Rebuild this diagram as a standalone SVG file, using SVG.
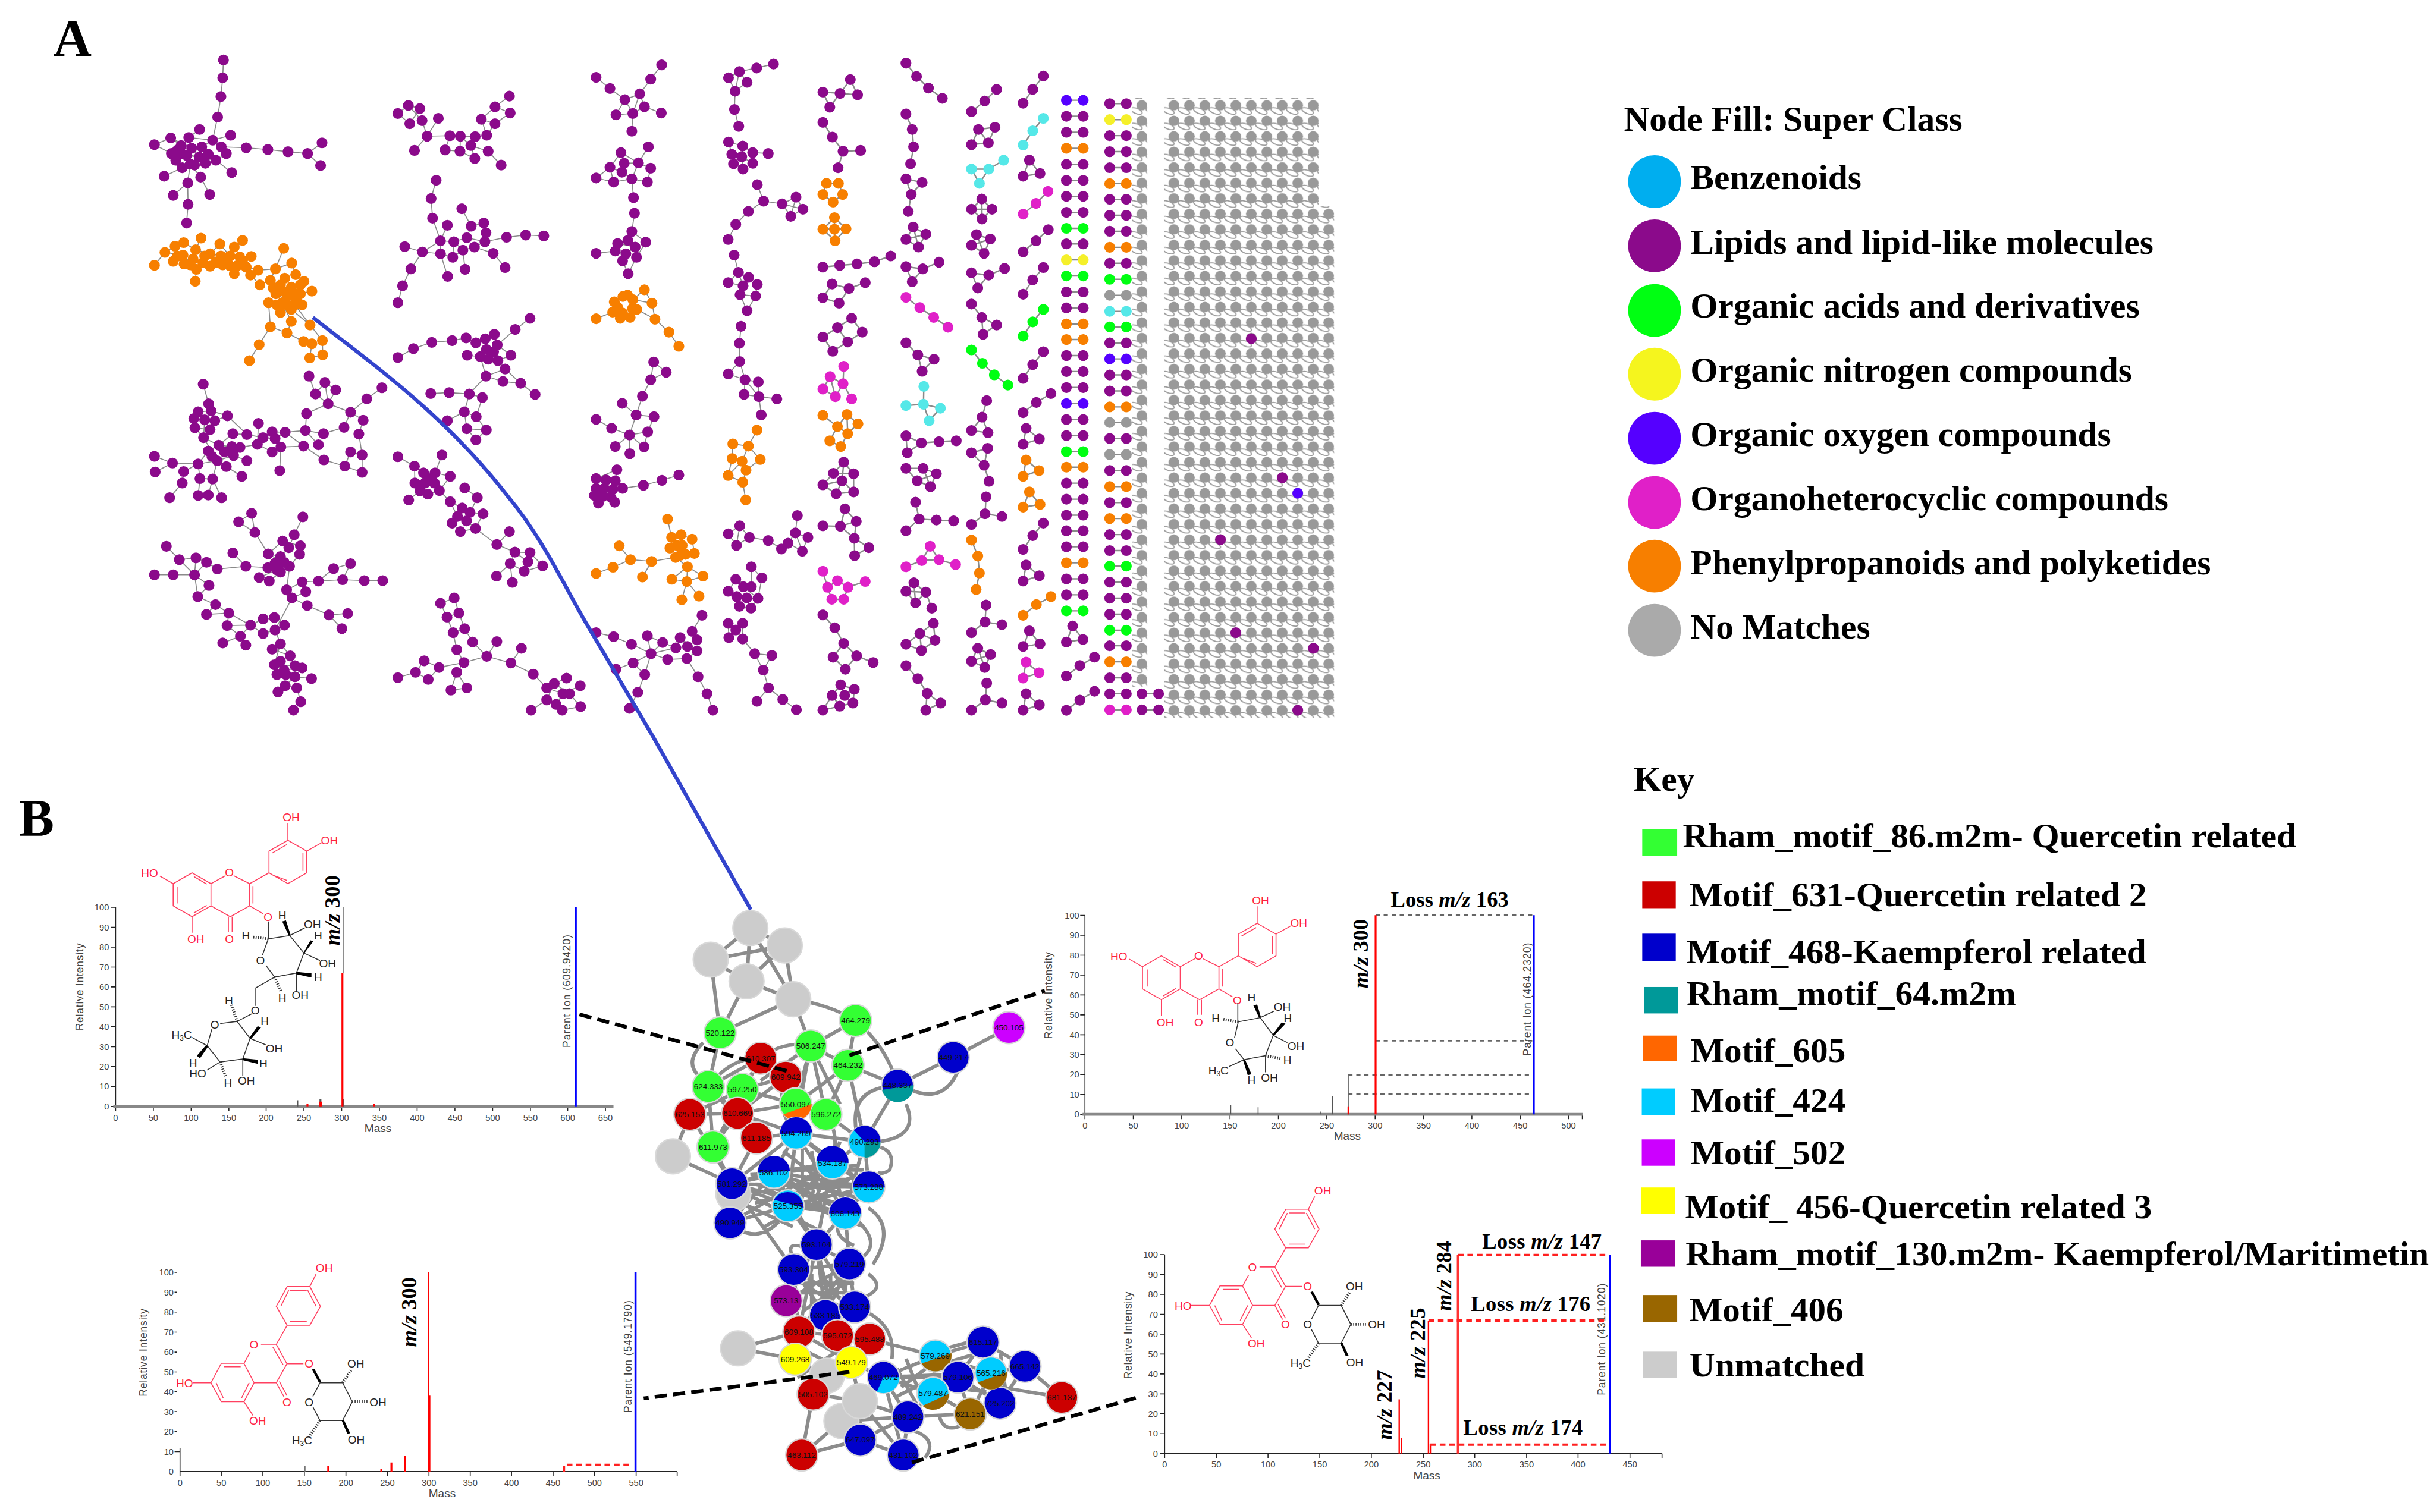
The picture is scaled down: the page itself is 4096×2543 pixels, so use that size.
<svg xmlns="http://www.w3.org/2000/svg" xmlns:xlink="http://www.w3.org/1999/xlink" width="4096" height="2543" viewBox="0 0 4096 2543">
<style>
text{font-family:"Liberation Sans",Arial,sans-serif}
.z path{vector-effect:non-scaling-stroke;fill:none;stroke-linecap:round;stroke-width:18.2}
.z .e{stroke:#8a8a8a;stroke-width:1.7;stroke-linecap:butt}
.z .e2{stroke:#8a8a8a;stroke-width:2.4;stroke-linecap:butt}
.z .p{stroke:#8b0a8b}.z .o{stroke:#f77f00}.z .m{stroke:#e020c8}.z .c{stroke:#55e8e8}.z .g{stroke:#00ff12}.z .y{stroke:#f5f02a}.z .v{stroke:#5500ff}.z .a{stroke:#999}
.lg{font-family:"Liberation Serif","Times New Roman",serif;font-weight:700;font-size:75px;fill:#000}
.ky{font-family:"Liberation Serif","Times New Roman",serif;font-weight:700;font-size:71px;fill:#000}
.pl{font-family:"Liberation Serif","Times New Roman",serif;font-weight:700;font-size:112px;fill:#000}
.mz,.ls{font-family:"Liberation Serif","Times New Roman",serif;font-weight:700;font-size:46px;fill:#000}
.it{font-style:italic}
.nb circle{stroke:#d8d8d8;stroke-width:3}
.nb text{font-size:17px;text-anchor:middle;fill:#111}
.net{fill:none;stroke:#8c8c8c;stroke-width:7.5}
.tk{font-size:18.5px;fill:#444;text-anchor:middle}
.ty{font-size:18.5px;fill:#444;text-anchor:end}
.ax{font-size:24px;fill:#444;text-anchor:middle}
.ri{font-size:22px;fill:#444;text-anchor:middle}
.ln{fill:none;stroke:#222;stroke-width:2}
.rd{fill:none;stroke:#ff4060;stroke-width:2}
.bk{fill:none;stroke:#333;stroke-width:2}
.hs{fill:none;stroke:#333;stroke-width:6;stroke-dasharray:2 3}
.mr{font-size:24px;fill:#ff2040;text-anchor:middle}
.mb{font-size:24px;fill:#222;text-anchor:middle}
.dd{fill:none;stroke:#000;stroke-width:8;stroke-dasharray:26 13}
.rdl{fill:none;stroke:#ff0000;stroke-width:4}
.rdd{fill:none;stroke:#ff2020;stroke-width:5;stroke-dasharray:12 8}
.gyd{fill:none;stroke:#666;stroke-width:3.5;stroke-dasharray:9 8}
.blu{fill:none;stroke:#0000ff;stroke-width:4.5}
</style>
<defs>
<pattern id="gridp" patternUnits="userSpaceOnUse" x="2466.3" y="206.7" width="32.8" height="32.88">
<g fill="none" stroke="#999" stroke-width="2.3"><ellipse cx="9.5" cy="28.5" rx="13" ry="5.5" transform="rotate(22 9.5 28.5)"/><ellipse cx="42.3" cy="28.5" rx="13" ry="5.5" transform="rotate(22 42.3 28.5)"/><ellipse cx="9.5" cy="-4.4" rx="13" ry="5.5" transform="rotate(22 9.5 -4.4)"/><ellipse cx="42.3" cy="-4.4" rx="13" ry="5.5" transform="rotate(22 42.3 -4.4)"/></g>
<ellipse cx="21.3" cy="16.5" rx="11.4" ry="11" fill="#999"/>
</pattern>
<g id="ylab"><text class="ty" y="6.5">0</text><text class="ty" y="-35.7">10</text><text class="ty" y="-77.9">20</text><text class="ty" y="-120">30</text><text class="ty" y="-162.2">40</text><text class="ty" y="-204.4">50</text><text class="ty" y="-246.6">60</text><text class="ty" y="-288.7">70</text><text class="ty" y="-330.9">80</text><text class="ty" y="-373.1">90</text><text class="ty" y="-415.3">100</text></g>
<path id="ytk" d="M-10 0H0M-10 -42.2H0M-10 -84.4H0M-10 -126.5H0M-10 -168.7H0M-10 -210.9H0M-10 -253.1H0M-10 -295.2H0M-10 -337.4H0M-10 -379.6H0M-10 -421.8H0" class="ln"/>
<g id="quer">
<path class="rd" d="M367 1873 407 1850 447 1873 447 1920 407 1943 367 1920ZM377 1879V1915M411 1858 438 1874M411 1935 438 1919M447 1873 478 1856M495 1856 529 1873 529 1920 488 1943 447 1920M536 1878V1915M484 1943V1975M492 1943V1975M529 1873 570 1850M570 1850 570 1804 610 1781 650 1804 650 1850 610 1873ZM577 1808 608 1790M642 1808V1846M576 1854 608 1866M610 1781V1745M650 1804 682 1786M339 1857 367 1873M407 1943V1977M529 1920 558 1937"/>
<text class="mr" x="617" y="1741">OH</text><text class="mr" x="698" y="1789">OH</text><text class="mr" x="317" y="1859">HO</text><text class="mr" x="486" y="1858">O</text><text class="mr" x="415" y="1999">OH</text><text class="mr" x="486" y="1999">O</text><text class="mr" x="568" y="1952">O</text>
</g>
<g id="kaem">
<path class="rd" d="M608.6 2727 656.5 2727 679 2769 656.5 2809 608.6 2809 585.5 2769ZM595 2769 612 2735M615 2735H650M615 2801H650M670 2769 652 2735M656.5 2727 670 2700M608.6 2809 585.5 2849.5 553 2849.5M530 2866 517 2890M585.5 2849.5 608 2890.6 585.5 2931 538.5 2931M578 2855 600 2893M608 2890.6H643M585.5 2931 602 2961M592 2928 608 2958M517 2889.7 469 2889.7 447 2931 469 2971 517 2971 538.5 2931ZM475 2897H510M458 2931 473 2963M512 2963 528 2931M517 2971 536 3000M447 2931H408"/>
<text class="mr" x="687" y="2696">OH</text><text class="mr" x="538" y="2858">O</text><text class="mr" x="655" y="2899">O</text><text class="mr" x="608" y="2980">O</text><text class="mr" x="391" y="2940">HO</text><text class="mr" x="546" y="3020">OH</text>
<path class="bk" d="M678 2931 726 2931 746.5 2971 726 3011 678 3011 663 2982M663 2960 678 2931"/>
<path fill="#000" d="M661 2903 666 2901 681 2929 676 2931ZM724 3011 729 3010 742 3038 736 3039Z"/>
<path class="hs" d="M726 2931 744 2904M746.5 2971H780M678 3011 657 3042"/>
<text class="mb" x="754" y="2899">OH</text><text class="mb" x="655" y="2980">O</text><text class="mb" x="801" y="2980">OH</text><text class="mb" x="755" y="3060">OH</text><text class="mb" x="640" y="3061">H<tspan font-size="15" dy="4">3</tspan><tspan dy="-4">C</tspan></text>
</g>
</defs>
<g transform="scale(.79349)">
<text class="pl" x="113" y="117">A</text>
<text class="pl" x="40" y="1771">B</text>

<!-- Panel A connectors -->
<g id="panelA-connectors" class="z">
<g transform="translate(250 80) scale(.7653 .9439)">
<path class="e" d="M292 50 290 90 285 132 276 178 262 230M355 247 415 251 471 256 525 260 565 236M525 260 561 287M286 245 355 247M101 240 146 225 175 242M101 240 148 260 176 260M226 206 196 224 204 248 232 245 262 230 286 245 300 260 271 275 242 282 200 284 178 292M312 219 262 230M128 311 178 292M315 303 271 275M193 326 200 284M229 313 200 284M193 326 153 354M229 313 254 352M193 326 194 374 190 416M225 268 176 260M225 268 271 275M225 268 232 245M204 248 225 268 200 284M196 224 262 230M146 225 204 248M148 260 225 268"/>
<path class="e" d="M101 511 130 482 158 468 182 460 215 476 255 485 282 463 310 490 345 455M130 482 180 488 208 497 255 513 290 510 330 512 369 491M153 502 208 497 217 520 214 547M230 450 215 476M255 485 285 490 337 492 355 515 388 522 436 519 459 473M367 533 393 555 422 545 436 519 481 506 492 532M422 545 437 575 417 595 422 649 391 689 364 725M417 595 455 595 480 637 468 663M455 595 450 617M422 649 468 663 514 682M490 600 532 645 566 680 567 712 531 719 537 687 514 682M480 610 532 645M450 555 470 580 505 575 537 569M480 560 515 547M437 575 490 600 510 600M450 555 490 600M322 530 290 510"/>
<path class="e" d="M236 778 251 822 258 838 222 840 210 855 240 858 268 860 255 880 213 876 237 898 279 915M258 838 303 849 357 891M240 858 237 898M268 860 303 849M237 898 275 950 250 928 279 915 315 918 338 920 320 938 275 950 300 963M357 950 320 938M318 889 279 915M318 889 357 891 402 898 427 885 463 886 519 882 522 844 582 822 547 800 529 760M547 800 573 774 603 791 582 822M573 774 582 822M582 822 644 841 689 811 731 786M644 841 679 859 667 890 676 937 676 976 628 962 570 948 514 917 451 919 427 930 386 913 338 920M644 930 676 937M644 930 628 962M644 841 626 875 569 889 519 882M514 917 463 886M555 914 519 882M402 898 435 900 463 886M435 900 451 919 448 972M389 866 386 913M250 928 222 957 151 955 101 940M151 955 103 975M222 957 182 974 178 1000 143 1033M222 957 227 990 222 1028 250 1027 262 991 275 950M262 991 287 1033M300 963 343 985M227 990 262 991M275 950 222 957"/>
<path class="e" d="M370 1068 334 1087 379 1111 416 1159M370 1068 379 1111M512 1076 488 1116 473 1145M456 1130 505 1141 503 1160 475 1187 440 1195 415 1190 354 1187 275 1193 245 1178 216 1168 170 1172 134 1142M170 1172 212 1206 153 1206 101 1206M216 1168 212 1206 245 1178M212 1206 252 1230 221 1255 270 1273 307 1292 367 1319 402 1305 433 1302 461 1319 435 1330 402 1338 367 1319M318 1157 354 1187M245 1295 270 1273M245 1295 307 1292 302 1320 367 1319M302 1320 339 1344 290 1359M339 1344 354 1364M339 1344 367 1319M212 1206 221 1255M391 1212 440 1195M419 1220 450 1200 475 1187 416 1159 450 1165 473 1145M416 1159 456 1130M475 1187 467 1240 482 1258 435 1330M467 1240 510 1222 555 1220 597 1192 644 1181 622 1217 555 1220M622 1217 682 1219 733 1219M482 1258 520 1244 510 1222M482 1258 524 1275 584 1296 636 1293M584 1296 620 1327M435 1330 450 1361 477 1388M427 1373 477 1388M450 1361 433 1408 460 1420 510 1415M433 1408 490 1410 490 1435 536 1439M440 1430 490 1435 463 1455 443 1469M463 1455 495 1460 506 1491 486 1510"/>
<path class="e" d="M775 170 804 152 836 159 808 193 775 170M804 152 842 186 856 221 919 220 948 221 947 255 906 252 919 220 989 222 1021 219 1006 183 1044 155 1084 131M1044 155 1086 169 1044 193 1006 183M887 181 856 221 821 253M989 222 977 242 988 271 947 255M977 242 1025 255 1061 286M1021 219 1044 193M948 221 977 242M881 320 867 361 871 405 893 456 930 458 966 449 978 423 952 384M978 423 1013 416 1019 438 1016 458 987 470 955 477 927 493 893 485 843 481 794 469M843 481 811 519 788 557 775 595M893 456 912 421M893 456 843 481M893 485 913 536M893 456 893 485M930 458 955 477 961 520M930 458 927 493M1016 458 1076 448 1129 443 1179 445M987 470 1039 484 1072 516M966 449 1016 458M775 718 818 698 869 684 925 680 964 674 991 685 1017 676 1042 666 1050 690 1100 655 1141 630M1003 716 1025 722 1052 725 1088 713M967 713 1003 716M1050 690 1088 713M1052 725 1072 744 1019 760 1003 716M1019 760 1066 772 1115 776 1155 801M1019 760 973 800 1009 808 992 851M917 797 866 799M973 800 917 797M973 800 959 840 912 860M959 840 966 878 1020 881 992 851 959 840M966 878 991 903 1020 881M1072 744 1115 776M775 941 821 962 846 977 878 977 920 985 890 1017 858 1025 836 1018 805 1038M821 962 822 1000 850 1000 876 1000 890 1017M897 937 878 977 850 1000M836 1018 846 977M890 1017 920 1042 953 1056 975 1066 1011 1069 990 1102 948 1109 925 1090 953 1056M960 1011 995 1033 975 1066M920 1042 940 1075 965 1085 990 1102 1049 1138 1099 1155 1141 1156 1176 1186 1125 1198 1086 1181 1099 1155M1049 1138 1084 1109M1086 1181 1048 1209M1086 1181 1092 1223M1135 1177 1099 1155M1141 1156 1125 1198M931 1258 893 1270 911 1301 944 1292 931 1258M911 1301 928 1336 960 1327 944 1292M928 1336 938 1374 958 1403 1021 1389 1049 1356M960 1327 982 1357 1021 1389 1088 1404 1117 1371M1088 1404 1150 1429 1187 1460M958 1403 938 1425 922 1465 966 1460 938 1425M958 1403 889 1414 859 1441 824 1425 848 1399 889 1414M824 1425 775 1437M1208 1450 1242 1438M1208 1450 1187 1487 1230 1510 1281 1502 1250 1473 1208 1450M1232 1473 1280 1455M1187 1487 1144 1510M1187 1460 1232 1473 1213 1497"/>
</g>
<g transform="translate(1200 80) scale(.7015 .9439)">
<path class="e" d="M90 89 132 114 177 139 150 173 201 170 222 126 255 93 288 61M177 139 222 126 236 155 287 169M236 155 201 170 177 139M201 170 198 210M165 258 218 281 248 245M132 291 165 258 175 282 218 281 255 293 245 324 198 317 143 324 90 315 132 291 168 302 198 317 218 281M198 317 203 359M143 324 132 291M206 394 198 435 186 455 155 462 148 479 90 484M198 435 240 459 212 493 187 530M155 462 208 470 180 485 170 501 187 530M148 479 180 485M236 566 201 588M236 566 259 596 268 632 310 661 340 693M201 588 259 596M171 581 145 593 140 616 90 631M213 610 268 632M140 616 163 630 193 628 213 610 201 588 171 581M264 728 302 751 255 768 264 728M255 768 230 805 211 847 169 821M211 847 265 851 246 885 191 892 211 847M90 857 137 877 191 892 148 918M191 892 192 934M191 892 235 919 246 885M90 990 153 970 148 995 170 1012 233 1005 289 994 340 982M90 990 120 993 148 995M90 1012 115 1012 140 1015M85 1028 110 1030 135 1032 146 1043M97 1045 135 1032M306 1081 318 1122 347 1116 380 1126 387 1158 360 1160 330 1167M313 1146 350 1140 360 1160M258 1176 330 1167 366 1188 364 1221 349 1262M160 1141 194 1172 258 1176 230 1211M194 1172 141 1189 90 1203M366 1188 413 1209 364 1221 401 1254M319 1216 366 1188M319 1216 364 1221M90 1336 143 1345 197 1362 256 1383 291 1358 245 1343 256 1383 331 1370 366 1367 395 1352 380 1333 410 1297M344 1347 395 1377 366 1367 344 1347 331 1370M291 1358 331 1370M256 1383 306 1396 364 1394 395 1377M256 1383 202 1404 150 1418M202 1404 237 1430 256 1383M237 1430 216 1470 191 1506M364 1394 398 1435 425 1473 443 1510"/>
<path class="e" d="M626 59 575 68 523 76 490 90 510 120 546 100 523 76 510 120 508 161 521 199M490 234 533 243 563 258 610 260M533 243 530 267 500 262 505 283 534 295 563 282 563 258M490 234 500 262M530 267 563 282M530 267 534 295M577 330 596 367 652 373 694 358 715 385 678 401 652 373 715 385M694 358 678 401M596 367 550 390 512 419 489 453M507 488 520 527 551 538 577 554 572 580 546 613M489 550 520 527 534 557 551 538M489 550 534 557 525 577 546 613M525 577 572 580M528 648 523 686 524 727 540 768 489 755 524 727M540 768 580 773 582 806 537 801 540 768 582 806 636 811M582 806 589 847M576 881 550 917 503 912 501 945 531 951 550 917 586 947 543 971 531 951M501 945 489 983 533 998 542 1038M543 971 533 998M489 983 531 951M524 1096 489 1114 514 1140 553 1122 524 1096 514 1140M553 1122 610 1129 650 1148 670 1135 692 1112 730 1122 713 1153 670 1135M698 1073 692 1112 713 1153M559 1188 559 1233 512 1216 489 1243 515 1255 545 1258 579 1259 535 1233 512 1216M559 1188 591 1213 579 1259M523 1277 558 1281 579 1259M515 1255 523 1277M545 1258 558 1281M489 1315 533 1350 569 1383 595 1420 621 1387 569 1383M533 1315 491 1347 489 1315M533 1315 533 1350M595 1420 611 1460 576 1490M611 1460 654 1486 695 1509"/>
<path class="e2" d="M858 94 827 125 880 128 858 94M827 125 775 122 796 156 827 125M775 190 804 223 836 255 889 253M836 255 821 292M786 327 822 327 835 352 806 369 775 352 786 327M810 404 845 429 812 456 775 430 810 404 810 430 812 456M775 430 845 429M775 515 826 511 878 508 931 503 980 490M903 550 854 563 803 553 775 584 824 596 854 563M862 630 894 661 850 683 805 704 775 672 819 651 862 630M819 651 850 683M838 738 836 777 797 761 775 789 813 806 836 777 862 811M797 761 813 806M775 848 819 873 848 846 881 867 850 889 829 918 796 905 819 873 850 889 848 846M838 953 868 979 868 1020 815 1024 775 1004 807 978 838 953 833 995 868 1020M807 978 868 979M815 1024 833 995 775 1004M842 1058 828 1097 775 1096M842 1058 876 1086 870 1124 828 1097 876 1086M870 1124 914 1145 871 1163 870 1124M775 1198 789 1234 802 1261 838 1261 851 1234 819 1219 789 1234M851 1234 903 1221M775 1296 811 1325 838 1360 877 1388 843 1418 806 1391 838 1360M877 1388 927 1403M829 1453 870 1463 866 1494 826 1501 775 1510 803 1477 829 1453 841 1477 866 1494M803 1477 826 1501M841 1477 870 1463"/>
<path class="e2" d="M1026 57 1058 87 1094 113 1136 136M1026 171 1045 206 1049 245 1040 283M1026 317 1075 325 1042 352 1026 317M1042 352 1033 390M1048 425 1086 441 1064 470 1026 453 1048 425 1064 470M1026 453 1086 441M1026 514 1077 519 1126 504M1077 519 1045 548 1026 514M1026 583 1068 606 1110 628 1153 650M1026 685 1062 712 1111 722 1075 749 1062 712M1080 783 1079 823 1026 826M1079 823 1130 832 1096 860 1079 823M1026 894 1073 910 1126 907 1178 905M1073 910 1030 932 1026 894M1026 967 1078 967 1118 979 1100 1008 1060 995 1026 967M1078 967 1100 1008M1060 995 1118 979M1055 1043 1066 1081 1118 1083 1170 1085M1066 1081 1026 1107M1099 1142 1074 1174 1126 1172 1099 1142M1026 1188 1074 1174M1126 1172 1176 1183M1050 1224 1026 1243 1055 1269 1086 1245 1050 1224 1055 1269M1026 1243 1086 1245M1086 1245 1104 1281M1109 1315 1068 1338 1114 1353 1109 1315M1068 1338 1026 1362 1073 1376 1114 1353M1068 1338 1073 1376M1026 1410 1062 1439 1090 1472 1131 1494 1086 1510 1090 1472"/>
<path class="e2" d="M1300 116 1264 142 1224 166M1245 206 1295 201 1275 236 1224 240 1245 206 1275 236M1321 275 1276 295 1224 295 1248 327 1276 295M1255 362 1224 385 1256 407 1286 385 1255 362 1256 407M1224 385 1286 385M1239 442 1281 452 1262 484 1224 466 1239 442 1262 484M1224 466 1281 452M1224 528 1276 533 1324 518M1276 533 1243 562 1224 528M1224 598 1255 628 1300 645 1259 666 1255 628M1224 701 1257 731 1293 757 1334 780M1270 815 1256 852 1224 882 1274 887 1256 852M1273 922 1224 932 1262 960 1273 922M1262 960 1277 996M1268 1031 1265 1069 1316 1075M1265 1069 1224 1093M1224 1128 1243 1164 1248 1202 1238 1239M1268 1274 1265 1312 1316 1318M1265 1312 1224 1336M1243 1371 1282 1385 1264 1414 1224 1400 1243 1371 1264 1414M1224 1400 1282 1385M1270 1449 1266 1487 1316 1494M1266 1487 1224 1510"/>
<path class="e2" d="M1441 86 1409 116 1380 147M1441 181 1409 209 1380 241M1399 275 1431 305 1380 311 1399 275M1455 345 1419 372 1380 396M1456 431 1419 456 1380 481M1441 516 1409 544 1380 576M1441 610 1409 638 1380 670M1441 705 1409 734 1380 765M1464 799 1420 819 1380 842M1389 877 1429 901 1380 913 1389 877M1389 948 1428 972 1380 985 1389 948M1399 1020 1431 1048 1380 1054 1399 1020M1441 1090 1409 1118 1380 1149M1389 1184 1429 1208 1380 1220 1389 1184M1464 1255 1420 1273 1380 1297M1399 1332 1431 1361 1380 1367 1399 1332M1389 1402 1428 1426 1380 1438 1389 1402M1389 1473 1429 1498 1380 1510 1389 1473"/>
</g>
<g transform="translate(2100 150) scale(.5102 .8929)">
<path class="e2" d="M313 70H383M313 108H383M313 146H383M313 184H383M313 222H383M313 260H383M313 298H383M313 336H383M313 374H383M313 411H383M313 449H383M313 487H383M313 525H383M313 563H383M313 601H383M313 638H383M313 676H383M313 714H383M313 752H383M313 790H383M313 828H383M313 866H383M313 904H383M313 941H383M313 979H383M313 1017H383M313 1055H383M313 1092H383M313 1130H383M313 1168H383M313 1206H383M313 1244H383M313 1282H383M339 1318 313 1356 382 1350 339 1318M430 1392 369 1412 313 1437M430 1473 369 1494 313 1518"/>
<path class="e2" d="M493 78H562M493 116H562M493 154H562M493 192H562M493 230H562M493 268H562M493 305H562M493 343H562M493 381H562M493 419H562M493 457H562M493 495H562M493 533H562M493 571H562M493 608H562M493 646H562M493 684H562M493 722H562M493 760H562M493 798H562M493 835H562M493 873H562M493 911H562M493 949H562M493 987H562M493 1025H562M493 1063H562M493 1101H562M493 1139H562M493 1176H562M493 1214H562M493 1252H562M493 1290H562M493 1328H562M493 1365H562M493 1403H562M493 1441H562M493 1479H562M493 1517H562M627 1479H696M627 1517H696"/>
</g>
</g>

<!-- Panel A nodes -->
<g class="z">
<g id="A-left" transform="translate(250 80) scale(.7653 .9439)">
<g id="a1"><path class="p" d="M292 50h0M290 90h0M285 132h0M276 178h0M226 206h0M146 225h0M101 240h0M196 224h0M262 230h0M312 219h0M175 242h0M204 248h0M232 245h0M286 245h0M148 260h0M176 260h0M300 260h0M225 268h0M271 275h0M200 284h0M242 282h0M178 292h0M128 311h0M315 303h0M193 326h0M229 313h0M153 354h0M254 352h0M194 374h0M190 416h0M355 247h0M415 251h0M471 256h0M525 260h0M565 236h0M561 287h0M165 252h0M190 264h0M250 262h0M212 286h0M160 275h0"/></g>
<g id="a2"><path class="o" d="M101 511h0M130 482h0M158 468h0M182 460h0M230 450h0M282 463h0M345 455h0M322 470h0M153 502h0M183 508h0M180 488h0M215 476h0M208 497h0M217 520h0M214 547h0M255 485h0M255 513h0M285 490h0M290 510h0M310 490h0M337 492h0M322 530h0M330 512h0M369 491h0M355 515h0M367 533h0M388 522h0M393 555h0M436 519h0M459 473h0M481 506h0M422 545h0M492 532h0M515 547h0M450 555h0M480 560h0M437 575h0M470 580h0M505 575h0M537 569h0M417 595h0M455 595h0M490 600h0M510 600h0M450 617h0M480 610h0M422 649h0M480 637h0M532 645h0M468 663h0M514 682h0M537 687h0M566 680h0M391 689h0M364 725h0M531 719h0M567 712h0M240 490h0M270 505h0M300 500h0M235 505h0M165 490h0M200 510h0M345 500h0M310 512h0M460 570h0M490 575h0M440 600h0M470 600h0M505 555h0M495 590h0M430 562h0M462 540h0"/></g>
<g id="a3"><path class="p" d="M236 778h0M251 822h0M258 838h0M222 840h0M210 855h0M240 858h0M268 860h0M255 880h0M213 876h0M237 898h0M303 849h0M279 915h0M250 928h0M315 918h0M338 920h0M275 950h0M320 938h0M300 963h0M222 957h0M151 955h0M101 940h0M103 975h0M182 974h0M178 1000h0M143 1033h0M227 990h0M262 991h0M222 1028h0M250 1027h0M287 1033h0M343 985h0M357 950h0M318 889h0M357 891h0M389 866h0M386 913h0M402 898h0M427 885h0M435 900h0M463 886h0M427 930h0M451 919h0M448 972h0M519 882h0M522 844h0M514 917h0M555 914h0M569 889h0M570 948h0M582 822h0M547 800h0M529 760h0M573 774h0M603 791h0M626 875h0M644 841h0M689 811h0M731 786h0M679 859h0M667 890h0M676 937h0M644 930h0M628 962h0M676 976h0M295 930h0M260 940h0"/></g>
<g id="a4"><path class="p" d="M370 1068h0M334 1087h0M379 1111h0M512 1076h0M488 1116h0M456 1130h0M505 1141h0M473 1145h0M416 1159h0M503 1160h0M450 1165h0M318 1157h0M354 1187h0M415 1190h0M440 1195h0M475 1187h0M391 1212h0M419 1220h0M450 1200h0M134 1142h0M170 1172h0M216 1168h0M245 1178h0M275 1193h0M101 1206h0M153 1206h0M212 1206h0M252 1230h0M221 1255h0M270 1273h0M245 1295h0M307 1292h0M302 1320h0M367 1319h0M402 1305h0M433 1302h0M461 1319h0M435 1330h0M402 1338h0M339 1344h0M290 1359h0M354 1364h0M450 1361h0M427 1373h0M477 1388h0M433 1408h0M510 1415h0M460 1420h0M490 1410h0M440 1430h0M490 1435h0M536 1439h0M463 1455h0M443 1469h0M495 1460h0M506 1491h0M486 1510h0M467 1240h0M510 1222h0M520 1244h0M482 1258h0M524 1275h0M555 1220h0M597 1192h0M644 1181h0M622 1217h0M682 1219h0M733 1219h0M584 1296h0M636 1293h0M620 1327h0M435 1180h0M460 1178h0M465 1430h0M450 1400h0"/></g>
<g id="a5"><path class="p" d="M775 170h0M804 152h0M836 159h0M808 193h0M842 186h0M887 181h0M856 221h0M821 253h0M919 220h0M948 221h0M906 252h0M947 255h0M989 222h0M977 242h0M988 271h0M1025 255h0M1021 219h0M1006 183h0M1044 155h0M1084 131h0M1044 193h0M1086 169h0M1061 286h0"/></g>
<g id="a6"><path class="p" d="M881 320h0M867 361h0M871 405h0M952 384h0M912 421h0M978 423h0M1013 416h0M1019 438h0M966 449h0M1016 458h0M893 456h0M930 458h0M987 470h0M794 469h0M843 481h0M893 485h0M955 477h0M927 493h0M811 519h0M1039 484h0M961 520h0M913 536h0M1072 516h0M1076 448h0M1129 443h0M1179 445h0M788 557h0M775 595h0"/></g>
<g id="a7"><path class="p" d="M775 718h0M818 698h0M869 684h0M925 680h0M964 674h0M991 685h0M1017 676h0M1042 666h0M1050 690h0M1100 655h0M1141 630h0M967 713h0M1003 716h0M1025 722h0M1052 725h0M1088 713h0M1072 744h0M1019 760h0M1066 772h0M1115 776h0M1155 801h0M973 800h0M1009 808h0M917 797h0M866 799h0M959 840h0M992 851h0M912 860h0M966 878h0M1020 881h0M991 903h0M1020 700h0M1040 705h0"/></g>
<g id="a8"><path class="p" d="M775 941h0M821 962h0M897 937h0M846 977h0M878 977h0M920 985h0M822 1000h0M850 1000h0M876 1000h0M890 1017h0M836 1018h0M858 1025h0M805 1038h0M960 1011h0M995 1033h0M920 1042h0M953 1056h0M975 1066h0M1011 1069h0M940 1075h0M925 1090h0M965 1085h0M990 1102h0M948 1109h0M1049 1138h0M1084 1109h0M1099 1155h0M1141 1156h0M1135 1177h0M1086 1181h0M1125 1198h0M1176 1186h0M1048 1209h0M1092 1223h0M860 990h0M835 1005h0"/></g>
<g id="a9"><path class="p" d="M931 1258h0M893 1270h0M944 1292h0M911 1301h0M960 1327h0M928 1336h0M982 1357h0M938 1374h0M1049 1356h0M1117 1371h0M1021 1389h0M958 1403h0M1088 1404h0M1150 1429h0M848 1399h0M824 1425h0M889 1414h0M775 1437h0M859 1441h0M938 1425h0M922 1465h0M966 1460h0M1208 1450h0M1242 1438h0M1187 1460h0M1280 1455h0M1232 1473h0M1250 1473h0M1187 1487h0M1213 1497h0M1230 1510h0M1281 1502h0M1144 1510h0"/></g>
</g>
<g id="A-mid" transform="translate(1200 80) scale(.7015 .9439)">
<g id="a10"><path class="p" d="M90 89h0M132 114h0M177 139h0M222 126h0M255 93h0M288 61h0M236 155h0M287 169h0M150 173h0M201 170h0M198 210h0"/></g>
<g id="a11"><path class="p" d="M165 258h0M248 245h0M175 282h0M218 281h0M132 291h0M255 293h0M168 302h0M90 315h0M143 324h0M198 317h0M245 324h0M203 359h0"/></g>
<g id="a12"><path class="p" d="M206 394h0M198 435h0M186 455h0M155 462h0M208 470h0M240 459h0M148 479h0M180 485h0M90 484h0M212 493h0M170 501h0M187 530h0"/></g>
<g id="a13"><path class="o" d="M236 566h0M171 581h0M201 588h0M145 593h0M259 596h0M140 616h0M213 610h0M163 630h0M193 628h0M90 631h0M268 632h0M310 661h0M340 693h0M155 605h0M185 578h0M200 608h0M170 618h0"/></g>
<g id="a14"><path class="p" d="M264 728h0M302 751h0M255 768h0M230 805h0M169 821h0M211 847h0M265 851h0M90 857h0M137 877h0M191 892h0M246 885h0M148 918h0M235 919h0M192 934h0"/></g>
<g id="a15"><path class="p" d="M153 970h0M90 990h0M120 993h0M148 995h0M90 1012h0M115 1012h0M140 1015h0M170 1012h0M85 1028h0M110 1030h0M135 1032h0M97 1045h0M146 1043h0M233 1005h0M289 994h0M340 982h0"/></g>
<g id="a16"><path class="o" d="M306 1081h0M318 1122h0M347 1116h0M380 1126h0M313 1146h0M350 1140h0M360 1160h0M387 1158h0M330 1167h0M160 1141h0M194 1172h0M258 1176h0M90 1203h0M141 1189h0M230 1211h0M366 1188h0M319 1216h0M364 1221h0M413 1209h0M401 1254h0M349 1262h0M335 1140h0M345 1162h0"/></g>
<g id="a17"><path class="p" d="M90 1336h0M143 1345h0M197 1362h0M245 1343h0M291 1358h0M344 1347h0M380 1333h0M410 1297h0M256 1383h0M331 1370h0M366 1367h0M395 1352h0M395 1377h0M306 1396h0M364 1394h0M202 1404h0M150 1418h0M237 1430h0M398 1435h0M216 1470h0M191 1506h0M425 1473h0M443 1510h0"/></g>
<g id="a18"><path class="p" d="M626 59h0M575 68h0M523 76h0M490 90h0M546 100h0M510 120h0M508 161h0M521 199h0"/></g>
<g id="a19"><path class="p" d="M490 234h0M533 243h0M500 262h0M530 267h0M563 258h0M610 260h0M505 283h0M563 282h0M534 295h0"/></g>
<g id="a20"><path class="p" d="M577 330h0M596 367h0M652 373h0M694 358h0M715 385h0M678 401h0M550 390h0M512 419h0M489 453h0"/></g>
<g id="a21"><path class="p" d="M507 488h0M520 527h0M551 538h0M489 550h0M534 557h0M577 554h0M525 577h0M572 580h0M546 613h0"/></g>
<g id="a22"><path class="p" d="M528 648h0M523 686h0M524 727h0M489 755h0M540 768h0M580 773h0M537 801h0M582 806h0M636 811h0M589 847h0"/></g>
<g id="a23"><path class="o" d="M576 881h0M503 912h0M550 917h0M501 945h0M531 951h0M586 947h0M543 971h0M489 983h0M533 998h0M542 1038h0"/></g>
<g id="a24"><path class="p" d="M698 1073h0M524 1096h0M489 1114h0M553 1122h0M514 1140h0M610 1129h0M692 1112h0M670 1135h0M730 1122h0M650 1148h0M713 1153h0"/></g>
<g id="a25"><path class="p" d="M559 1188h0M512 1216h0M591 1213h0M535 1233h0M559 1233h0M489 1243h0M515 1255h0M545 1258h0M579 1259h0M523 1277h0M558 1281h0"/></g>
<g id="a26"><path class="p" d="M489 1315h0M533 1315h0M512 1330h0M491 1347h0M533 1350h0M569 1383h0M621 1387h0M595 1420h0M611 1460h0M576 1490h0M654 1486h0M695 1509h0"/></g>
<g id="a27"><path class="p" d="M858 94h0M775 122h0M827 125h0M880 128h0M796 156h0"/></g>
<g id="a28"><path class="p" d="M775 190h0M804 223h0M836 255h0M889 253h0M821 292h0"/></g>
<g id="a29"><path class="o" d="M786 327h0M822 327h0M775 352h0M835 352h0M806 369h0"/></g>
<g id="a30"><path class="o" d="M810 404h0M775 430h0M810 430h0M845 429h0M812 456h0"/></g>
<g id="a31"><path class="p" d="M775 515h0M826 511h0M878 508h0M931 503h0M980 490h0"/></g>
<g id="a32"><path class="p" d="M803 553h0M903 550h0M854 563h0M775 584h0M824 596h0"/></g>
<g id="a33"><path class="p" d="M862 630h0M819 651h0M894 661h0M775 672h0M850 683h0M805 704h0"/></g>
<g id="a34"><path class="m" d="M838 738h0M797 761h0M836 777h0M775 789h0M813 806h0M862 811h0"/></g>
<g id="a35"><path class="o" d="M775 848h0M848 846h0M881 867h0M819 873h0M850 889h0M796 905h0M829 918h0"/></g>
<g id="a36"><path class="p" d="M838 953h0M807 978h0M868 979h0M833 995h0M775 1004h0M868 1020h0M815 1024h0"/></g>
<g id="a37"><path class="p" d="M842 1058h0M876 1086h0M775 1096h0M828 1097h0M870 1124h0M914 1145h0M871 1163h0"/></g>
<g id="a38"><path class="m" d="M775 1198h0M819 1219h0M903 1221h0M789 1234h0M851 1234h0M802 1261h0M838 1261h0"/></g>
<g id="a39"><path class="p" d="M775 1296h0M811 1325h0M838 1360h0M877 1388h0M806 1391h0M927 1403h0M843 1418h0"/></g>
<g id="a40"><path class="p" d="M829 1453h0M870 1463h0M803 1477h0M841 1477h0M866 1494h0M826 1501h0M775 1510h0"/></g>
<g id="a41"><path class="p" d="M1026 57h0M1058 87h0M1094 113h0M1136 136h0M1026 171h0M1045 206h0M1049 245h0M1040 283h0M1026 317h0M1075 325h0M1042 352h0M1033 390h0M1048 425h0M1086 441h0M1026 453h0M1064 470h0M1026 514h0M1077 519h0M1126 504h0M1045 548h0M1026 685h0M1062 712h0M1111 722h0M1075 749h0M1026 894h0M1073 910h0M1126 907h0M1178 905h0M1030 932h0M1026 967h0M1078 967h0M1118 979h0M1060 995h0M1100 1008h0M1055 1043h0M1066 1081h0M1118 1083h0M1170 1085h0M1026 1107h0M1050 1224h0M1026 1243h0M1086 1245h0M1055 1269h0M1104 1281h0M1109 1315h0M1068 1338h0M1114 1353h0M1026 1362h0M1073 1376h0M1026 1410h0M1062 1439h0M1090 1472h0M1131 1494h0M1086 1510h0"/></g>
<g id="a42"><path class="m" d="M1026 583h0M1068 606h0M1110 628h0M1153 650h0M1099 1142h0M1074 1174h0M1126 1172h0M1176 1183h0M1026 1188h0"/></g>
<g id="a43"><path class="c" d="M1080 783h0M1026 826h0M1079 823h0M1130 832h0M1096 860h0"/></g>
<g id="a44"><path class="p" d="M1300 116h0M1264 142h0M1224 166h0M1245 206h0M1295 201h0M1224 240h0M1275 236h0M1255 362h0M1224 385h0M1286 385h0M1256 407h0M1239 442h0M1281 452h0M1224 466h0M1262 484h0M1224 528h0M1276 533h0M1324 518h0M1243 562h0M1224 598h0M1255 628h0M1300 645h0M1259 666h0M1270 815h0M1256 852h0M1224 882h0M1274 887h0M1273 922h0M1224 932h0M1262 960h0M1277 996h0M1268 1031h0M1265 1069h0M1316 1075h0M1224 1093h0M1268 1274h0M1265 1312h0M1316 1318h0M1224 1336h0M1243 1371h0M1282 1385h0M1224 1400h0M1264 1414h0M1270 1449h0M1266 1487h0M1316 1494h0M1224 1510h0"/></g>
<g id="a45"><path class="c" d="M1321 275h0M1224 295h0M1276 295h0M1248 327h0M1441 181h0M1409 209h0M1380 241h0"/></g>
<g id="a46"><path class="g" d="M1224 701h0M1257 731h0M1293 757h0M1334 780h0M1441 610h0M1409 638h0M1380 670h0"/></g>
<g id="a47"><path class="o" d="M1224 1128h0M1243 1164h0M1248 1202h0M1238 1239h0M1389 948h0M1428 972h0M1380 985h0M1399 1020h0M1431 1048h0M1380 1054h0M1464 1255h0M1420 1273h0M1380 1297h0"/></g>
<g id="a48"><path class="p" d="M1441 86h0M1409 116h0M1380 147h0M1399 275h0M1431 305h0M1380 311h0M1456 431h0M1419 456h0M1380 481h0M1441 516h0M1409 544h0M1380 576h0M1441 705h0M1409 734h0M1380 765h0M1464 799h0M1420 819h0M1380 842h0M1389 877h0M1429 901h0M1380 913h0M1441 1090h0M1409 1118h0M1380 1149h0M1389 1184h0M1429 1208h0M1380 1220h0M1399 1332h0M1431 1361h0M1380 1367h0M1389 1473h0M1429 1498h0M1380 1510h0"/></g>
<g id="a49"><path class="m" d="M1455 345h0M1419 372h0M1380 396h0M1389 1402h0M1428 1426h0M1380 1438h0"/></g>
</g>
</g>
<g id="A-grid">
<rect x="2466.3" y="206.7" width="328" height="1315.2" fill="url(#gridp)"/>
<rect x="2794.3" y="436.9" width="32.8" height="1085" fill="url(#gridp)"/>
<rect x="2466.3" y="206.7" width="32.8" height="1249.4" fill="url(#gridp)" transform="translate(-67.9 0)"/>
</g>
<g class="z">
<g id="A-right" transform="translate(2100 150) scale(.5102 .8929)">
<g id="a50"><path class="p" d="M313 108h0M383 108h0M313 146h0M383 146h0M313 222h0M383 222h0M313 260h0M383 260h0M313 298h0M383 298h0M313 336h0M383 336h0M313 411h0M383 411h0M313 525h0M383 525h0M313 563h0M383 563h0M313 676h0M383 676h0M313 714h0M383 714h0M313 752h0M383 752h0M313 828h0M383 828h0M313 866h0M383 866h0M313 979h0M383 979h0M313 1017h0M383 1017h0M313 1055h0M383 1055h0M313 1092h0M383 1092h0M313 1130h0M383 1130h0M313 1206h0M383 1206h0M313 1244h0M383 1244h0M339 1318h0M313 1356h0M382 1350h0M430 1392h0M369 1412h0M313 1437h0M430 1473h0M369 1494h0M313 1518h0"/><path class="o" d="M313 184h0M383 184h0M313 601h0M383 601h0M313 638h0M383 638h0M313 941h0M383 941h0M313 1168h0M383 1168h0"/><path class="g" d="M313 374h0M383 374h0M313 487h0M383 487h0M313 904h0M383 904h0M313 1282h0M383 1282h0"/><path class="y" d="M313 449h0M383 449h0"/><path class="v" d="M313 70h0M383 70h0M313 790h0M383 790h0"/></g>
<g id="a51"><path class="p" d="M493 78h0M562 78h0M493 154h0M562 154h0M493 192h0M562 192h0M493 230h0M562 230h0M493 305h0M562 305h0M493 343h0M562 343h0M493 381h0M562 381h0M493 457h0M562 457h0M493 646h0M562 646h0M493 722h0M562 722h0M493 760h0M562 760h0M493 873h0M562 873h0M493 949h0M562 949h0M493 1025h0M562 1025h0M493 1101h0M562 1101h0M493 1139h0M562 1139h0M493 1214h0M562 1214h0M493 1252h0M562 1252h0M493 1290h0M562 1290h0M493 1365h0M562 1365h0M493 1441h0M562 1441h0M493 1479h0M562 1479h0M627 1479h0M696 1479h0M627 1517h0M696 1517h0"/><path class="y" d="M493 116h0M562 116h0"/><path class="o" d="M493 268h0M562 268h0M493 419h0M562 419h0M493 798h0M562 798h0M493 987h0M562 987h0M493 1063h0M562 1063h0M493 1403h0M562 1403h0"/><path class="g" d="M493 495h0M562 495h0M493 608h0M562 608h0M493 1176h0M562 1176h0M493 1328h0M562 1328h0"/><path class="a" d="M493 533h0M562 533h0M493 835h0M562 835h0M493 911h0M562 911h0"/><path class="c" d="M493 571h0M562 571h0"/><path class="v" d="M493 684h0M562 684h0"/><path class="m" d="M493 1517h0M562 1517h0"/></g>
<g id="a52"><path class="p" d="M1081 636h0M1210 966h0M953 1113h0M1017 1334h0M1339 1371h0M1274 1518h0"/><path class="v" d="M1274 1003h0"/></g>
</g>
</g>

<!-- Legend A -->
<g id="legend-a" transform="translate(0 2)">
<text class="lg" x="3441" y="275">Node Fill: Super Class</text>
<g id="la1"><circle cx="3506" cy="383" r="56" fill="#00aeef"/><text class="lg" x="3582" y="399">Benzenoids</text></g>
<g id="la2"><circle cx="3506" cy="519" r="56" fill="#8b0a8b"/><text class="lg" x="3582" y="536">Lipids and lipid-like molecules</text></g>
<g id="la3"><circle cx="3506" cy="656" r="56" fill="#00ff12"/><text class="lg" x="3582" y="671">Organic acids and derivatives</text></g>
<g id="la4"><circle cx="3506" cy="791" r="56" fill="#f5f51e"/><text class="lg" x="3582" y="807">Organic nitrogen compounds</text></g>
<g id="la5"><circle cx="3506" cy="927" r="56" fill="#5500ff"/><text class="lg" x="3582" y="943">Organic oxygen compounds</text></g>
<g id="la6"><circle cx="3506" cy="1063" r="56" fill="#e020c8"/><text class="lg" x="3582" y="1079">Organoheterocyclic compounds</text></g>
<g id="la7"><circle cx="3506" cy="1198" r="56" fill="#f77f00"/><text class="lg" x="3582" y="1215">Phenylpropanoids and polyketides</text></g>
<g id="la8"><circle cx="3506" cy="1334" r="56" fill="#aaa"/><text class="lg" x="3582" y="1351">No Matches</text></g>
</g>

<!-- Legend B -->
<g id="legend-b" transform="translate(0 2)">
<text class="lg" x="3462" y="1674">Key</text>
<g id="lb1"><rect x="3480" y="1755" width="74" height="57" fill="#33ff33"/><text class="ky" x="3566" y="1794" textLength="1300" lengthAdjust="spacingAndGlyphs">Rham_motif_86.m2m- Quercetin related</text></g>
<g id="lb2"><rect x="3480" y="1866" width="71" height="57" fill="#c00"/><text class="ky" x="3580" y="1919" textLength="969" lengthAdjust="spacingAndGlyphs">Motif_631-Quercetin related 2</text></g>
<g id="lb3"><rect x="3480" y="1977" width="71" height="58" fill="#00c"/><text class="ky" x="3574" y="2039" textLength="974" lengthAdjust="spacingAndGlyphs">Motif_468-Kaempferol related</text></g>
<g id="lb4"><rect x="3484" y="2090" width="72" height="56" fill="#099"/><text class="ky" x="3574" y="2128" textLength="698" lengthAdjust="spacingAndGlyphs">Rham_motif_64.m2m</text></g>
<g id="lb5"><rect x="3482" y="2193" width="71" height="54" fill="#f60"/><text class="ky" x="3583" y="2249" textLength="328" lengthAdjust="spacingAndGlyphs">Motif_605</text></g>
<g id="lb6"><rect x="3479" y="2305" width="71" height="57" fill="#0cf"/><text class="ky" x="3583" y="2355" textLength="328" lengthAdjust="spacingAndGlyphs">Motif_424</text></g>
<g id="lb7"><rect x="3479" y="2413" width="71" height="56" fill="#c0f"/><text class="ky" x="3583" y="2466" textLength="328" lengthAdjust="spacingAndGlyphs">Motif_502</text></g>
<g id="lb8"><rect x="3477" y="2515" width="72" height="56" fill="#ff0"/><text class="ky" x="3571" y="2580" textLength="989" lengthAdjust="spacingAndGlyphs" xml:space="preserve">Motif_ 456-Quercetin related 3</text></g>
<g id="lb9"><rect x="3477" y="2627" width="72" height="56" fill="#909"/><text class="ky" x="3572" y="2680" textLength="1575" lengthAdjust="spacingAndGlyphs">Rham_motif_130.m2m- Kaempferol/Maritimetin</text></g>
<g id="lb10"><rect x="3482" y="2743" width="72" height="57" fill="#960"/><text class="ky" x="3580" y="2798" textLength="326" lengthAdjust="spacingAndGlyphs">Motif_406</text></g>
<g id="lb11"><rect x="3482" y="2863" width="71" height="56" fill="#ccc"/><text class="ky" x="3580" y="2915" textLength="371" lengthAdjust="spacingAndGlyphs">Unmatched</text></g>
</g>

<!-- Chart 1 -->
<g id="chart1">
<use xlink:href="#quer" href="#quer"/>
<path class="bk" d="M568.6 1953V1990L614 1983 644 2020 628 2062.5 582 2071 564 2047M556 2024.5 568.6 1990M614 1983 646 1966.5M644 2020 678 2036M628 2062.5V2100M582 2071 542 2094V2132M533 2149 502.5 2165 530 2201 514.5 2244.6 466.6 2251 439 2216.5 449 2181M466.6 2169.6 502.5 2165M530 2201 564 2215M514.5 2244.6V2281M466.6 2251 439 2268M439 2216.5 407 2199"/>
<path fill="#000" d="M612 1983 616 1982 606 1951 598 1953ZM642 2021 646 2019 664 1995 658 1993ZM628 2060 628 2065 660 2072 660 2063ZM528 2200 532 2202 553 2178 546 2175ZM514 2243 514 2247 546 2255 546 2246ZM437 2215 441 2218 424 2243 417 2238Z"/>
<path class="hs" d="M568.6 1990 534 1986M582 2071 596 2103M502.5 2165 490.5 2129.5M466.6 2251 478.6 2283.5"/>
<text class="mb" x="521" y="1991">H</text><text class="mb" x="598" y="1948">H</text><text class="mb" x="662" y="1967">OH</text><text class="mb" x="674" y="1991">H</text><text class="mb" x="694" y="2050">OH</text><text class="mb" x="674" y="2080">H</text><text class="mb" x="636" y="2117">OH</text><text class="mb" x="598" y="2124">H</text><text class="mb" x="552" y="2044">O</text><text class="mb" x="541" y="2150">O</text><text class="mb" x="485" y="2128">H</text><text class="mb" x="455" y="2180">O</text><text class="mb" x="561" y="2173">H</text><text class="mb" x="581" y="2231">OH</text><text class="mb" x="558" y="2262">H</text><text class="mb" x="522" y="2299">OH</text><text class="mb" x="419" y="2284">HO</text><text class="mb" x="483" y="2304">H</text><text class="mb" x="409" y="2261">H</text><text class="mb" x="385" y="2202">H<tspan font-size="15" dy="4">3</tspan><tspan dy="-4">C</tspan></text>
<path class="ln" d="M245 1923V2345M245 2345V2355M325 2345V2355M405 2345V2355M485 2345V2355M564 2345V2355M644 2345V2355M724 2345V2355M804 2345V2355M884 2345V2355M964 2345V2355M1044 2345V2355M1124 2345V2355M1203 2345V2355M1283 2345V2355"/>
<use xlink:href="#ytk" href="#ytk" x="245" y="2345"/>
<path fill="none" stroke="#888" stroke-width="6" d="M240 2345H1300"/>
<path fill="none" stroke="#555" stroke-width="2" d="M727 1923V2062M631 2345V2332M680 2345V2330M678 2345V2329M728 2345V2330"/>
<path class="rdl" d="M725.6 2062V2345M680 2345V2335M651.5 2345V2340M678 2345V2335M793 2345V2340"/>
<path class="blu" d="M1220 1923V2345"/>
<use xlink:href="#ylab" href="#ylab" x="231" y="2345"/>
<text class="tk" x="245" y="2375">0</text><text class="tk" x="325" y="2375">50</text><text class="tk" x="405" y="2375">100</text><text class="tk" x="485" y="2375">150</text><text class="tk" x="564" y="2375">200</text><text class="tk" x="644" y="2375">250</text><text class="tk" x="724" y="2375">300</text><text class="tk" x="804" y="2375">350</text><text class="tk" x="884" y="2375">400</text><text class="tk" x="964" y="2375">450</text><text class="tk" x="1044" y="2375">500</text><text class="tk" x="1124" y="2375">550</text><text class="tk" x="1203" y="2375">600</text><text class="tk" x="1283" y="2375">650</text>
<text class="ax" x="801" y="2399">Mass</text>
<text class="ri" transform="translate(176 2092) rotate(-90)" textLength="185">Relative Intensity</text>
<text class="ri" transform="translate(1209 2101) rotate(-90)" textLength="239">Parent Ion (609.9420)</text>
<text class="mz" transform="translate(720 2004) rotate(-90)" textLength="149"><tspan class="it">m/z</tspan> 300</text>
</g>

<!-- Chart 2 -->
<g id="chart2">
<use xlink:href="#quer" href="#quer" x="2054" y="176"/>
<path class="bk" d="M2623 2126V2166L2670.4 2157 2698 2194.4 2681.6 2237.7 2636 2246 2618 2223M2616 2200 2624 2166M2670.4 2157 2700 2143M2698 2194.4 2728 2210M2681.6 2237.7V2273M2636 2246 2604 2261"/>
<path fill="#000" d="M2668 2157 2672 2156 2664 2129 2656 2131ZM2696 2194 2700 2195 2724 2170 2716 2167ZM2634 2247 2638 2245 2652 2277 2644 2279Z"/>
<path class="hs" d="M2624 2166 2590 2160M2681.6 2237.7 2716 2244"/>
<text class="mb" x="2576" y="2166">H</text><text class="mb" x="2652" y="2122">H</text><text class="mb" x="2717" y="2143">OH</text><text class="mb" x="2729" y="2166">H</text><text class="mb" x="2746" y="2226">OH</text><text class="mb" x="2728" y="2254">H</text><text class="mb" x="2690" y="2292">OH</text><text class="mb" x="2652" y="2298">H</text><text class="mb" x="2606" y="2218">O</text><text class="mb" x="2582" y="2277">H<tspan font-size="15" dy="4">3</tspan><tspan dy="-4">C</tspan></text>
<path class="ln" d="M2299 1940V2362M2299 2362V2372M2401.5 2362V2372M2504 2362V2372M2606.5 2362V2372M2709 2362V2372M2811.5 2362V2372M2914 2362V2372M3016.5 2362V2372M3119 2362V2372M3221.5 2362V2372M3324 2362V2372M3353 2362V2372"/>
<use xlink:href="#ytk" href="#ytk" x="2299" y="2362"/>
<path fill="none" stroke="#888" stroke-width="6" d="M2294 2362H3354"/>
<path fill="none" stroke="#555" stroke-width="2" d="M2857 2278V2362M2608 2342V2362M2666 2347V2362M2799 2356V2362M2823.5 2323V2362"/>
<path class="gyd" d="M2915 1940H3250M2915 2206H3250M2857 2278H3250M2857 2319H3250"/>
<path class="rdl" d="M2915 1940V2362"/>
<path fill="none" stroke="#f00" stroke-width="3" d="M2857 2345V2362"/>
<path class="blu" d="M3250 1940V2362"/>
<use xlink:href="#ylab" href="#ylab" x="2287" y="2362"/>
<text class="tk" x="2299" y="2392">0</text><text class="tk" x="2401.5" y="2392">50</text><text class="tk" x="2504" y="2392">100</text><text class="tk" x="2606.5" y="2392">150</text><text class="tk" x="2709" y="2392">200</text><text class="tk" x="2811.5" y="2392">250</text><text class="tk" x="2914" y="2392">300</text><text class="tk" x="3016.5" y="2392">350</text><text class="tk" x="3119" y="2392">400</text><text class="tk" x="3221.5" y="2392">450</text><text class="tk" x="3324" y="2392">500</text>
<text class="ax" x="2855" y="2416">Mass</text>
<text class="ri" transform="translate(2230 2110) rotate(-90)" textLength="184">Relative Intensity</text>
<text class="ri" transform="translate(3243.5 2118) rotate(-90)" textLength="239">Parent Ion (464.2320)</text>
<text class="mz" transform="translate(2899 2095) rotate(-90)" textLength="147"><tspan class="it">m/z</tspan> 300</text>
<text class="ls" x="2947" y="1922" textLength="250">Loss <tspan class="it">m/z</tspan> 163</text>
</g>

<!-- Chart 3 -->
<g id="chart3">
<use xlink:href="#kaem" href="#kaem"/>
<path class="ln" stroke-width="3" d="M381.5 3070V3119M381.5 3119H1435M381.5 3119V3129M469 3119V3129M557 3119V3129M645 3119V3129M733 3119V3129M821 3119V3129M909 3119V3129M996.5 3119V3129M1084 3119V3129M1172 3119V3129M1260 3119V3129M1348 3119V3129M1435 3119V3129"/>
<path class="ln" d="M370 2697h5M370 2739h5M370 2781h5M370 2823.5h5M370 2866h5M370 2908h5M370 2950h5M370 2992h5M370 3034.5h5M370 3077h11"/>
<path fill="none" stroke="#f00" stroke-width="2.5" d="M908 2697V3119"/><path fill="none" stroke="#f00" stroke-width="4" d="M910 2958V3119M695.5 3107V3119M808 3114V3119M829.4 3100V3119M858 3086V3119"/><path fill="none" stroke="#777" stroke-width="3" d="M646 3107V3119"/>
<path class="rdd" d="M1195 3119V3105H1340"/>
<path class="blu" d="M1346.7 2697V3119"/>
<use xlink:href="#ylab" href="#ylab" x="368" y="3119"/>
<text class="tk" x="381.5" y="3149">0</text><text class="tk" x="469" y="3149">50</text><text class="tk" x="557" y="3149">100</text><text class="tk" x="645" y="3149">150</text><text class="tk" x="733" y="3149">200</text><text class="tk" x="821" y="3149">250</text><text class="tk" x="909" y="3149">300</text><text class="tk" x="996.5" y="3149">350</text><text class="tk" x="1084" y="3149">400</text><text class="tk" x="1172" y="3149">450</text><text class="tk" x="1260" y="3149">500</text><text class="tk" x="1348" y="3149">550</text>
<text class="ax" x="937" y="3173">Mass</text>
<text class="ri" transform="translate(311 2867) rotate(-90)" textLength="186">Relative Intensity</text>
<text class="ri" transform="translate(1338 2875.5) rotate(-90)" textLength="238">Parent Ion (549.1790)</text>
<text class="mz" transform="translate(882 2855) rotate(-90)" textLength="148"><tspan class="it">m/z</tspan> 300</text>
</g>

<!-- Chart 4 -->
<g id="chart4">
<use xlink:href="#kaem" href="#kaem" x="2116" y="-164"/>
<path class="ln" stroke-width="3" d="M2468 2659V3081M2468 3081H3522M2468 3081V3091M2577.5 3081V3091M2687 3081V3091M2796.6 3081V3091M2906 3081V3091M3016 3081V3091M3125 3081V3091M3235 3081V3091M3344 3081V3091M3454 3081V3091M3522 3081V3091"/>
<use xlink:href="#ytk" href="#ytk" x="2468" y="3081"/>
<path fill="none" stroke="#f00" stroke-width="3" d="M2965 2966V3081M2970 3048V3081M3027 2799V3081M3031 3061V3081"/><path fill="none" stroke="#f33" stroke-width="5" d="M3089.6 2659V3081"/>
<path class="rdd" d="M3089.6 2660H3406M3027 2799H3405M3031 3062H3405"/>
<path class="blu" d="M3411.6 2659V3081"/>
<use xlink:href="#ylab" href="#ylab" x="2453.6" y="3081"/>
<text class="tk" x="2468" y="3110">0</text><text class="tk" x="2577.5" y="3110">50</text><text class="tk" x="2687" y="3110">100</text><text class="tk" x="2796.6" y="3110">150</text><text class="tk" x="2906" y="3110">200</text><text class="tk" x="3016" y="3110">250</text><text class="tk" x="3125" y="3110">300</text><text class="tk" x="3235" y="3110">350</text><text class="tk" x="3344" y="3110">400</text><text class="tk" x="3454" y="3110">450</text>
<text class="ax" x="3023.5" y="3135">Mass</text>
<text class="ri" transform="translate(2398 2830.5) rotate(-90)" textLength="185">Relative Intensity</text>
<text class="ri" transform="translate(3402 2839) rotate(-90)" textLength="237">Parent Ion (431.1020)</text>
<text class="mz" transform="translate(3075 2779) rotate(-90)" textLength="149"><tspan class="it">m/z</tspan> 284</text>
<text class="mz" transform="translate(3019.5 2922) rotate(-90)" textLength="150"><tspan class="it">m/z</tspan> 225</text>
<text class="mz" transform="translate(2949 3052) rotate(-90)" textLength="148"><tspan class="it">m/z</tspan> 227</text>
<text class="ls" x="3141" y="2646" textLength="253">Loss <tspan class="it">m/z</tspan> 147</text>
<text class="ls" x="3117" y="2779" textLength="253">Loss <tspan class="it">m/z</tspan> 176</text>
<text class="ls" x="3101" y="3041" textLength="253">Loss <tspan class="it">m/z</tspan> 174</text>
</g>

<!-- Panel B connectors -->
<g id="panelB-connectors">
<path class="net" d="M1590 1967 1663 2004M1590 1967 1506 2034M1590 1967 1582 2080M1590 1967 1681 2118M1663 2004 1681 2118M1663 2004 1582 2080M1506 2034 1582 2080M1506 2034 1663 2004M1506 2034 1526 2189M1582 2080 1681 2118M1582 2080 1526 2189M1681 2118 1526 2189M1681 2118 1718 2217M1681 2118Q1760 2130 1813 2163M1526 2189 1501 2303M1490 2210Q1450 2250 1480 2280M1612 2243Q1660 2205 1718 2217M1612 2243 1573 2309M1612 2243 1501 2303M1665 2283 1563 2360M1718 2217 1797 2258M1813 2163 1718 2217M1813 2163 1797 2258M1813 2163Q1880 2220 1902 2300M1797 2258 1902 2300M1718 2217 1750 2362M1718 2217 1686 2340M1797 2258 1686 2340M1797 2258 1832 2420M1797 2258 1750 2362M1501 2303 1462 2362M1501 2303 1511 2431M1462 2362 1551 2509M1462 2362 1426 2451M1426 2451 1551 2509M1511 2431 1551 2509M1563 2360 1686 2340M1563 2360 1687 2402M1573 2309 1686 2340M1603 2412 1687 2402M1603 2412 1551 2509M1686 2340 1750 2362M1750 2362 1832 2420M1902 2300 2020 2241M2020 2241 2138 2178M1902 2300 1832 2420M1930 2310Q2000 2340 2030 2270M1870 2305Q1800 2320 1815 2400M1920 2340Q1950 2410 1860 2420M1860 2430Q1900 2440 1885 2480Q1870 2490 1860 2485M1501 2303Q1550 2240 1612 2243M1573 2309Q1640 2290 1665 2283M1687 2402Q1640 2350 1665 2283M1718 2217Q1700 2300 1687 2402M1750 2362Q1780 2400 1764 2465M1501 2303 1563 2360M1511 2431 1563 2360M1462 2362 1563 2360M1501 2303 1603 2412M1573 2309 1462 2362M1612 2243 1511 2431M1665 2283 1686 2340M1612 2243 1686 2340M1718 2217 1612 2290M1718 2217 1780 2340"/>
<path class="net" d="M1687 2402 1764 2465M1687 2402 1640 2485M1687 2402 1841 2516M1687 2402 1670 2556M1687 2402 1791 2572M1687 2402 1551 2509M1687 2402 1832 2420M1764 2465 1640 2485M1764 2465 1841 2516M1764 2465 1670 2556M1764 2465 1791 2572M1764 2465 1551 2509M1764 2465 1547 2592M1764 2465 1730 2638M1640 2485 1841 2516M1640 2485 1670 2556M1640 2485 1791 2572M1640 2485 1551 2509M1640 2485 1547 2592M1841 2516 1670 2556M1841 2516 1791 2572M1841 2516 1551 2509M1841 2516 1832 2420M1670 2556 1791 2572M1670 2556 1551 2509M1670 2556 1547 2592M1670 2556 1730 2638M1791 2572 1551 2509M1791 2572 1730 2638M1791 2572 1800 2679M1832 2420 1764 2465M1832 2420 1791 2572M1551 2509 1547 2592M1551 2509 1682 2691M1640 2485 1730 2638M1841 2516 1730 2638M1547 2592Q1600 2640 1650 2590M1550 2540 1680 2600M1580 2530 1760 2620M1600 2510 1820 2560M1620 2600 1800 2500M1620 2520 1830 2600M1840 2560Q1900 2600 1850 2680M1820 2590Q1870 2640 1820 2670M1720 2650Q1650 2620 1690 2680M1810 2640Q1760 2620 1780 2580M1700 2430 1700 2540M1720 2440 1740 2560M1740 2440 1720 2540M1660 2440 1800 2550M1680 2480 1830 2480M1680 2500 1820 2540M1700 2500 1790 2500M1590 2490 1820 2470M1600 2550 1830 2490M1620 2470 1760 2570M1780 2420 1720 2560M1690 2510 1830 2510"/>
<path class="net" d="M1730 2638 1800 2679M1730 2638 1682 2691M1800 2679 1682 2691M1730 2638 1749 2788M1730 2638 1811 2770M1730 2638 1666 2757M1800 2679 1749 2788M1800 2679 1811 2770M1800 2679 1666 2757M1682 2691 1749 2788M1682 2691 1811 2770M1682 2691 1666 2757M1682 2691 1693 2823M1800 2679 1693 2823M1800 2679 1775 2831M1730 2638 1693 2823M1730 2638 1775 2831M1840 2700Q1880 2730 1830 2750M1811 2770 1749 2788M1740 2700 1800 2780M1700 2720 1780 2770M1700 2780 1820 2700M1720 2700 1720 2780M1760 2700 1760 2790M1790 2700 1790 2780M1700 2740 1800 2740M1690 2720 1810 2720"/>
<path class="net" d="M1693 2823 1775 2831M1775 2831 1843 2838M1693 2823 1685 2881M1693 2823 1804 2888M1775 2831 1804 2888M1843 2838 1804 2888M1564 2858 1693 2823M1564 2858 1685 2881M1685 2881 1752 2916M1804 2888 1752 2916M1752 2916 1723 2955M1811 2770Q1900 2800 1890 2880M1843 2838 1982 2874M1872 2919 1982 2874M1872 2919 2030 2919M1872 2919 1977 2953M1872 2919 1924 3003M1872 2919 2100 2910M1804 2888 1872 2919M1804 2888 1822 2970M1723 2955 1822 2970M1723 2955 1699 3084M1699 3084 1783 3012M1699 3084 1823 3052M1783 3012 1823 3052M1822 2970 1823 3052M1822 2970 1924 3003M1822 2970 1914 3084M1783 3012 1924 3003M1823 3052 1914 3084M1823 3052 1924 3003M1914 3084 1924 3003M1930 3030Q1990 3050 1960 3090M1872 2919 1914 3084M1700 2860 1780 2900M1780 2860 1690 2920M1920 2880 1960 2980M1910 2940 1990 2880M1900 2960 1980 2920M1900 2900 1950 2990"/>
<path class="net" d="M1982 2874 2083 2845M1990 2862 2070 2840M1982 2874 2030 2919M1982 2874 2100 2910M1982 2874 1977 2953M2083 2845 2030 2919M2083 2845 2100 2910M2083 2845 2172 2896M2030 2919 2100 2910M2030 2919 1977 2953M2030 2919 2056 2997M2030 2919 2119 2974M2100 2910 2172 2896M2100 2910 2119 2974M2100 2910 2056 2997M1977 2953 2056 2997M1977 2953 1924 3003M1924 3003 2056 2997M2056 2997 2119 2974M2172 2896 2250 2962M2119 2974 2172 2896M2119 2940 2250 2962M1990 3000Q2000 3040 2040 3020M2000 2890 2100 2860M2000 2940 2090 2950M2120 2870 2130 2940"/>
</g>

<!-- Panel B nodes -->
<g class="nb">
<g id="n-u1"><circle cx="1590" cy="1967" r="37" fill="#ccc" stroke="#ccc"/></g>
<g id="n-u2"><circle cx="1663" cy="2004" r="37" fill="#ccc"/></g>
<g id="n-u3"><circle cx="1506" cy="2034" r="37" fill="#ccc"/></g>
<g id="n-u4"><circle cx="1582" cy="2080" r="37" fill="#ccc"/></g>
<g id="n-u5"><circle cx="1681" cy="2118" r="37" fill="#ccc"/></g>
<g id="n-u6"><circle cx="1426" cy="2451" r="37" fill="#ccc"/></g>
<g id="n-u7"><circle cx="1554" cy="2531" r="37" fill="#ccc"/></g>
<g id="n-u8"><circle cx="1564" cy="2858" r="37" fill="#ccc"/></g>
<g id="n-u9"><circle cx="1752" cy="2916" r="37" fill="#ccc"/></g>
<g id="n-u10"><circle cx="1783" cy="3012" r="37" fill="#ccc"/></g>
<g id="n-u11"><circle cx="1822" cy="2970" r="37" fill="#ccc"/></g>
<g id="n-520-122"><circle cx="1526" cy="2189" r="34" fill="#3f3"/><text x="1526" y="2195">520.122</text></g>
<g id="n-464-279"><circle cx="1813" cy="2163" r="34" fill="#3f3"/><text x="1813" y="2169">464.279</text></g>
<g id="n-506-247"><circle cx="1718" cy="2217" r="34" fill="#3f3"/><text x="1718" y="2223">506.247</text></g>
<g id="n-464-232"><circle cx="1797" cy="2258" r="34" fill="#3f3"/><text x="1797" y="2264">464.232</text></g>
<g id="n-610-307"><circle cx="1612" cy="2243" r="34" fill="#c00"/><text x="1612" y="2249">610.307</text></g>
<g id="n-609-942"><circle cx="1665" cy="2283" r="34" fill="#c00"/><text x="1665" y="2289">609.942</text></g>
<g id="n-624-333"><circle cx="1501" cy="2303" r="34" fill="#3f3"/><text x="1501" y="2309">624.333</text></g>
<g id="n-597-250"><circle cx="1573" cy="2309" r="34" fill="#3f3"/><text x="1573" y="2315">597.250</text></g>
<g id="n-596-272"><circle cx="1750" cy="2362" r="34" fill="#3f3"/><text x="1750" y="2368">596.272</text></g>
<g id="n-550-097"><circle cx="1686" cy="2340" r="34" fill="#3f3"/><path fill="#f60" d="M1720 2340 1660 2362A34 34 0 0 0 1720 2340Z"/><text x="1686" y="2346">550.097</text></g>
<g id="n-448-337"><circle cx="1902" cy="2300" r="34" fill="#00c"/><path fill="#099" d="M1869 2310A34 34 0 0 0 1936 2300Z"/><text x="1902" y="2306">448.337</text></g>
<g id="n-449-217"><circle cx="2020" cy="2241" r="34" fill="#00c"/><text x="2020" y="2247">449.217</text></g>
<g id="n-450-105"><circle cx="2138" cy="2178" r="34" fill="#c0f"/><text x="2138" y="2184">450.105</text></g>
<g id="n-625-153"><circle cx="1462" cy="2362" r="34" fill="#c00"/><text x="1462" y="2368">625.153</text></g>
<g id="n-610-669"><circle cx="1563" cy="2360" r="34" fill="#c00"/><text x="1563" y="2366">610.669</text></g>
<g id="n-611-185"><circle cx="1603" cy="2412" r="34" fill="#c00"/><text x="1603" y="2418">611.185</text></g>
<g id="n-594-269"><circle cx="1687" cy="2402" r="34" fill="#0cf"/><path fill="#00c" d="M1653 2404A34 34 0 0 1 1721 2400Z"/><text x="1687" y="2408">594.269</text></g>
<g id="n-611-973"><circle cx="1511" cy="2431" r="34" fill="#3f3"/><text x="1511" y="2437">611.973</text></g>
<g id="n-490-293"><circle cx="1832" cy="2420" r="34" fill="#0cf"/><path fill="#00c" d="M1809 2395 1832 2420H1866A34 34 0 0 0 1809 2395Z"/><path fill="#099" d="M1832 2420H1866A34 34 0 0 1 1832 2454Z"/><text x="1832" y="2426">490.293</text></g>
<g id="n-534-187"><circle cx="1764" cy="2465" r="34" fill="#0cf"/><path fill="#00c" d="M1730 2461A34 34 0 0 1 1798 2465Z"/><text x="1764" y="2471">534.187</text></g>
<g id="n-586-102"><circle cx="1640" cy="2485" r="34" fill="#0cf"/><path fill="#00c" d="M1606 2486A34 34 0 0 1 1674 2482Z"/><text x="1640" y="2491">586.102</text></g>
<g id="n-581-292"><circle cx="1551" cy="2509" r="34" fill="#00c"/><text x="1551" y="2515">581.292</text></g>
<g id="n-573-288"><circle cx="1841" cy="2516" r="34" fill="#0cf"/><path fill="#00c" d="M1807 2517A34 34 0 0 1 1875 2517Z"/><text x="1841" y="2522">573.288</text></g>
<g id="n-525-355"><circle cx="1670" cy="2556" r="34" fill="#0cf"/><path fill="#00c" d="M1640 2543A34 34 0 0 1 1703 2560Z"/><text x="1670" y="2562">525.355</text></g>
<g id="n-606-143"><circle cx="1791" cy="2572" r="34" fill="#0cf"/><path fill="#00c" d="M1757 2572A34 34 0 0 1 1825 2572Z"/><text x="1791" y="2578">606.143</text></g>
<g id="n-490-949"><circle cx="1547" cy="2592" r="34" fill="#00c"/><text x="1547" y="2598">490.949</text></g>
<g id="n-593-104"><circle cx="1730" cy="2638" r="34" fill="#00c"/><text x="1730" y="2644">593.104</text></g>
<g id="n-579-219"><circle cx="1800" cy="2679" r="34" fill="#00c"/><text x="1800" y="2685">579.219</text></g>
<g id="n-593-304"><circle cx="1682" cy="2691" r="34" fill="#00c"/><text x="1682" y="2697">593.304</text></g>
<g id="n-573-13"><circle cx="1666" cy="2757" r="34" fill="#909"/><text x="1666" y="2763">573.13</text></g>
<g id="n-533-185"><circle cx="1749" cy="2788" r="34" fill="#00c"/><text x="1749" y="2794">533.185</text></g>
<g id="n-533-174"><circle cx="1811" cy="2770" r="34" fill="#00c"/><text x="1811" y="2776">533.174</text></g>
<g id="n-609-108"><circle cx="1693" cy="2823" r="34" fill="#c00"/><text x="1693" y="2829">609.108</text></g>
<g id="n-595-488"><circle cx="1843" cy="2838" r="34" fill="#c00"/><text x="1843" y="2844">595.488</text></g>
<g id="n-595-072"><circle cx="1775" cy="2831" r="34" fill="#c00"/><text x="1775" y="2837">595.072</text></g>
<g id="n-609-268"><circle cx="1685" cy="2881" r="34" fill="#ff0"/><text x="1685" y="2887">609.268</text></g>
<g id="n-549-179"><circle cx="1804" cy="2888" r="34" fill="#ff0"/><text x="1804" y="2894">549.179</text></g>
<g id="n-505-102"><circle cx="1723" cy="2955" r="34" fill="#c00"/><text x="1723" y="2961">505.102</text></g>
<g id="n-469-072"><circle cx="1872" cy="2919" r="34" fill="#00c"/><path fill="#0cf" d="M1872 2919 1858 2950A34 34 0 0 0 1906 2919Z"/><text x="1872" y="2925">469.072</text></g>
<g id="n-615-117"><circle cx="2083" cy="2845" r="34" fill="#00c"/><text x="2083" y="2851">615.117</text></g>
<g id="n-579-269"><circle cx="1982" cy="2874" r="34" fill="#0cf"/><path fill="#960" d="M1953 2890A34 34 0 0 0 2016 2868Z"/><text x="1982" y="2880">579.269</text></g>
<g id="n-579-106"><circle cx="2030" cy="2919" r="34" fill="#00c"/><text x="2030" y="2925">579.106</text></g>
<g id="n-725-202"><circle cx="2119" cy="2974" r="34" fill="#00c"/><text x="2119" y="2980">725.202</text></g>
<g id="n-565-216"><circle cx="2100" cy="2910" r="34" fill="#0cf"/><path fill="#960" d="M2072 2930A34 34 0 0 0 2134 2908Z"/><text x="2100" y="2916">565.216</text></g>
<g id="n-665-142"><circle cx="2172" cy="2896" r="34" fill="#00c"/><text x="2172" y="2902">665.142</text></g>
<g id="n-579-487"><circle cx="1977" cy="2953" r="34" fill="#0cf"/><path fill="#960" d="M1955 2980A34 34 0 0 0 2011 2954Z"/><text x="1977" y="2959">579.487</text></g>
<g id="n-489-242"><circle cx="1924" cy="3003" r="34" fill="#00c"/><text x="1924" y="3009">489.242</text></g>
<g id="n-621-151"><circle cx="2056" cy="2997" r="34" fill="#960"/><text x="2056" y="3003">621.151</text></g>
<g id="n-681-137"><circle cx="2250" cy="2962" r="34" fill="#c00"/><text x="2250" y="2968">681.137</text></g>
<g id="n-647-097"><circle cx="1823" cy="3052" r="34" fill="#00c"/><text x="1823" y="3058">647.097</text></g>
<g id="n-431-102"><circle cx="1914" cy="3084" r="34" fill="#00c"/><text x="1914" y="3090">431.102</text></g>
<g id="n-463-112"><circle cx="1699" cy="3084" r="34" fill="#c00"/><text x="1699" y="3090">463.112</text></g>
</g>

<!-- Overlay connectors -->
<g id="callouts">
<path fill="none" stroke="#3344cc" stroke-width="8" d="M663 673C800 780 943 880 1076 1052C1150 1140 1200 1250 1245 1326L1383 1560 1591 1928"/>
<path class="dd" d="M1228 2150 1671 2271"/>
<path class="dd" d="M1800 2237 2214 2100"/>
<path class="dd" d="M1800 2908 1364 2964"/>
<path class="dd" d="M1932 3100 2410 2962"/>
</g>
</g>
</svg>
